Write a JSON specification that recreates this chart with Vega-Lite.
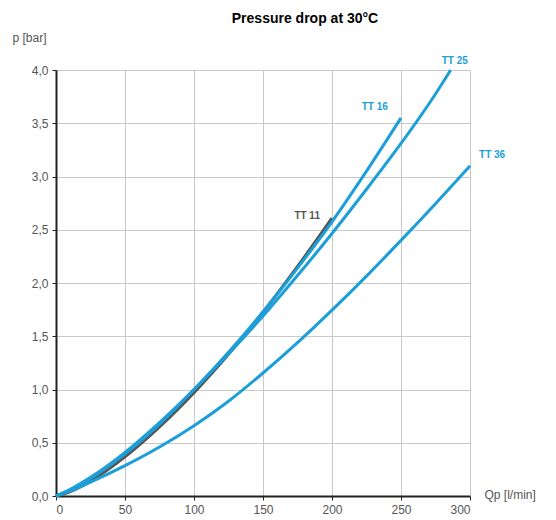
{
  "$schema": "https://vega.github.io/schema/vega-lite/v6.json",
  "width": 414,
  "height": 426,
  "autosize": "none",
  "padding": {"left": 56, "top": 70, "right": 86, "bottom": 24},
  "background": "white",
  "config": {"view": {"stroke": null}, "font": "Liberation Sans"},
  "title": {"text": "Pressure drop at 30°C", "fontSize": 14, "fontWeight": "bold", "font": "Liberation Sans", "color": "#000", "anchor": "middle", "dx": 42, "offset": 5},
  "datasets": {
    "curves": [
      {"s": "TT 36", "q": 0, "p": 0}, {"s": "TT 36", "q": 10, "p": 0.045}, {"s": "TT 36", "q": 25, "p": 0.13}, {"s": "TT 36", "q": 50, "p": 0.285}, {"s": "TT 36", "q": 75, "p": 0.46}, {"s": "TT 36", "q": 100, "p": 0.66}, {"s": "TT 36", "q": 125, "p": 0.89}, {"s": "TT 36", "q": 150, "p": 1.155}, {"s": "TT 36", "q": 175, "p": 1.44}, {"s": "TT 36", "q": 200, "p": 1.745}, {"s": "TT 36", "q": 225, "p": 2.065}, {"s": "TT 36", "q": 250, "p": 2.4}, {"s": "TT 36", "q": 275, "p": 2.745}, {"s": "TT 36", "q": 300, "p": 3.1},
      {"s": "TT 25", "q": 0, "p": 0}, {"s": "TT 25", "q": 10, "p": 0.06}, {"s": "TT 25", "q": 25, "p": 0.175}, {"s": "TT 25", "q": 50, "p": 0.41}, {"s": "TT 25", "q": 75, "p": 0.69}, {"s": "TT 25", "q": 100, "p": 1.0}, {"s": "TT 25", "q": 125, "p": 1.335}, {"s": "TT 25", "q": 150, "p": 1.69}, {"s": "TT 25", "q": 175, "p": 2.07}, {"s": "TT 25", "q": 200, "p": 2.465}, {"s": "TT 25", "q": 225, "p": 2.88}, {"s": "TT 25", "q": 250, "p": 3.31}, {"s": "TT 25", "q": 275, "p": 3.775}, {"s": "TT 25", "q": 286, "p": 4.0},
      {"s": "TT 16", "q": 0, "p": 0}, {"s": "TT 16", "q": 10, "p": 0.055}, {"s": "TT 16", "q": 25, "p": 0.165}, {"s": "TT 16", "q": 50, "p": 0.395}, {"s": "TT 16", "q": 75, "p": 0.675}, {"s": "TT 16", "q": 100, "p": 1.0}, {"s": "TT 16", "q": 125, "p": 1.35}, {"s": "TT 16", "q": 150, "p": 1.73}, {"s": "TT 16", "q": 175, "p": 2.14}, {"s": "TT 16", "q": 200, "p": 2.575}, {"s": "TT 16", "q": 225, "p": 3.05}, {"s": "TT 16", "q": 250, "p": 3.55},
      {"s": "TT 11", "q": 0, "p": 0}, {"s": "TT 11", "q": 10, "p": 0.04}, {"s": "TT 11", "q": 25, "p": 0.14}, {"s": "TT 11", "q": 50, "p": 0.367}, {"s": "TT 11", "q": 75, "p": 0.648}, {"s": "TT 11", "q": 100, "p": 0.97}, {"s": "TT 11", "q": 125, "p": 1.33}, {"s": "TT 11", "q": 150, "p": 1.725}, {"s": "TT 11", "q": 175, "p": 2.155}, {"s": "TT 11", "q": 200, "p": 2.61}
    ],
    "labels": [
      {"s": "TT 25", "q": 289, "p": 4.08},
      {"s": "TT 16", "q": 231, "p": 3.65},
      {"s": "TT 36", "q": 316, "p": 3.2},
      {"s": "TT 11", "q": 182, "p": 2.63}
    ]
  },
  "encoding": {
    "x": {"field": "q", "type": "quantitative", "scale": {"domain": [0, 300], "nice": false},
      "axis": {"values": [0, 50, 100, 150, 200, 250, 300], "title": "Qp [l/min]", "titleAngle": 0, "titleAlign": "left", "titleBaseline": "alphabetic", "titleX": 428, "titleY": 2, "titleFontSize": 12, "titleFontWeight": "normal", "titleColor": "#555", "labelFontSize": 12, "labelColor": "#555", "labelPadding": 4, "domainColor": "#222", "domainWidth": 2, "tickColor": "#222", "tickSize": 4, "grid": true, "gridColor": "#c8c8c8", "gridWidth": 1}},
    "y": {"field": "p", "type": "quantitative", "scale": {"domain": [0, 4], "nice": false},
      "axis": {"values": [0, 0.5, 1, 1.5, 2, 2.5, 3, 3.5, 4], "labelExpr": "replace(format(datum.value, '.1f'), '.', ',')", "title": "p [bar]", "titleAngle": 0, "titleAlign": "left", "titleBaseline": "alphabetic", "titleX": -44, "titleY": -29, "titleFontSize": 12, "titleFontWeight": "normal", "titleColor": "#555", "labelFontSize": 12, "labelColor": "#555", "labelPadding": 4, "domainColor": "#222", "domainWidth": 2, "tickColor": "#222", "tickSize": 4, "grid": true, "gridColor": "#c8c8c8", "gridWidth": 1}},
    "color": {"field": "s", "type": "nominal", "scale": {"domain": ["TT 36", "TT 25", "TT 16", "TT 11"], "range": ["#1c9fd8", "#1c9fd8", "#1c9fd8", "#555555"]}, "legend": null}
  },
  "layer": [
    {
      "data": {"name": "curves"},
      "transform": [{"filter": "datum.s === 'TT 11'"}],
      "mark": {"type": "line", "strokeWidth": 3, "interpolate": "monotone", "clip": false},
      "encoding": {"detail": {"field": "s"}}
    },
    {
      "data": {"name": "curves"},
      "transform": [{"filter": "datum.s !== 'TT 11'"}],
      "mark": {"type": "line", "strokeWidth": 3, "interpolate": "monotone", "clip": false},
      "encoding": {"detail": {"field": "s"}}
    },
    {
      "data": {"name": "labels"},
      "mark": {"type": "text", "fontSize": 10, "fontWeight": "bold", "font": "Liberation Sans"},
      "encoding": {"text": {"field": "s"}}
    }
  ]
}
